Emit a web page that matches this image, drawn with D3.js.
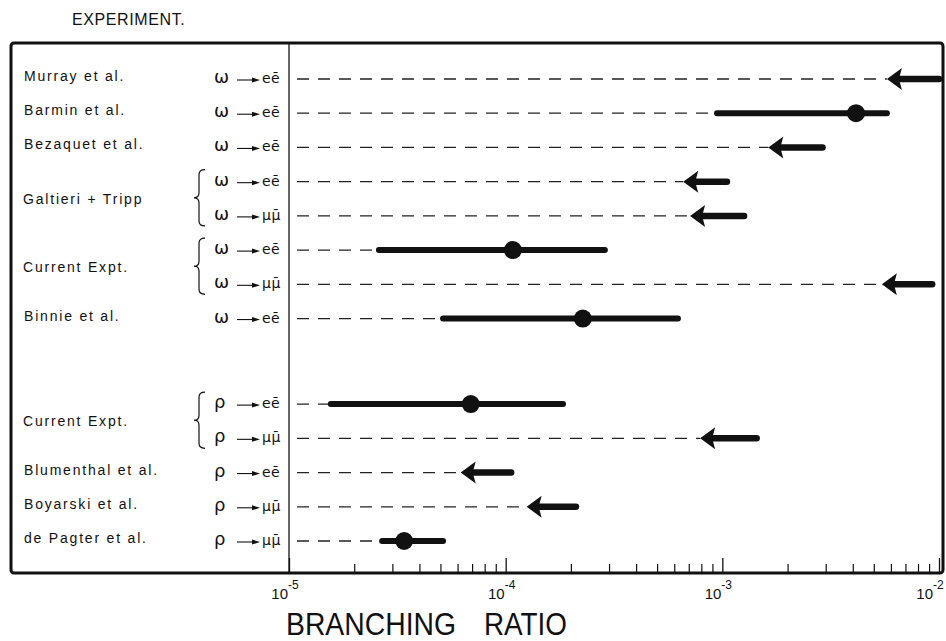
<!DOCTYPE html>
<html>
<head>
<meta charset="utf-8">
<script src="https://cdn.jsdelivr.net/npm/d3@7"></script>
<style>
  body { margin: 0; background: #fff; }
  text { fill: #111; }
</style>
</head>
<body>
<div id="chart"></div>
<script>
/* branching ratios of omega / rho -> lepton pairs, log axis */

// rows, top to bottom
const experiment = ["Murray et al.", "Barmin et al.", "Bezaquet et al.", "Galtieri + Tripp", "Galtieri + Tripp",
  "Current Expt.", "Current Expt.", "Binnie et al.", "Current Expt.", "Current Expt.",
  "Blumenthal et al.", "Boyarski et al.", "de Pagter et al."];
const meson = ["ω", "ω", "ω", "ω", "ω", "ω", "ω", "ω", "ρ", "ρ", "ρ", "ρ", "ρ"];
const product = ["eē", "eē", "eē", "eē", "μμ̄", "eē", "μμ̄", "eē", "eē", "μμ̄", "eē", "μμ̄", "μμ̄"];
const kind = ["limit", "measure", "limit", "limit", "limit", "measure", "limit", "measure",
  "measure", "limit", "limit", "limit", "measure"];
// measured value (null for upper limits)
const central = [null, 4.14e-3, null, null, null, 1.08e-4, null, 2.27e-4, 6.9e-5, null, null, null, 3.4e-5];
// lower end of bar, or the limit itself (arrow tip)
const low = [5.75e-3, 9.45e-4, 1.63e-3, 6.6e-4, 7.1e-4, 2.6e-5, 5.45e-3, 5.14e-5, 1.56e-5, 7.9e-4, 6.2e-5, 1.25e-4, 2.69e-5];
// upper end of bar / arrow tail
const high = [1e-2, 5.75e-3, 2.9e-3, 1.05e-3, 1.26e-3, 2.87e-4, 9.3e-3, 6.24e-4, 1.84e-4, 1.44e-3, 1.06e-4, 2.11e-4, 5.14e-5];

const majorTicks = [1e-5, 1e-4, 1e-3, 1e-2];
const tickExp = ["-5", "-4", "-3", "-2"];

const W = 946, H = 641;
const frame = { left: 11, top: 43, right: 943, bottom: 573 };

const xScale = d3.scaleLog().domain([1e-5, 1e-2]).range([289, 939]);
const yScale = d3.scaleLinear().domain([0, 13.5]).range([79, 541]);
// leave a gap of 1.5 rows before the rho block
const rowY = i => yScale(i + (meson[i] === "ρ" ? 1.5 : 0));

const svg = d3.select("#chart").append("svg")
  .attr("width", W)
  .attr("height", H);

svg.append("rect").attr("width", W).attr("height", H).attr("fill", "#fff");

// title above the frame
svg.append("text")
  .attr("x", 72).attr("y", 25)
  .style("font-family", "Liberation Sans")
  .style("font-size", "16px")
  .style("letter-spacing", "0.6px")
  .text("EXPERIMENT.");

// clip for marks that run into the right border
svg.append("clipPath").attr("id", "plotclip")
  .append("rect")
  .attr("x", 289).attr("y", frame.top)
  .attr("width", frame.right - 289).attr("height", frame.bottom - frame.top);

const rows = d3.range(experiment.length);

// dashed guide lines
const plot = svg.append("g").attr("clip-path", "url(#plotclip)");

plot.selectAll(".guide")
  .data(rows)
  .join("line")
  .attr("class", "guide")
  .attr("x1", 297)
  .attr("x2", i => xScale(low[i]))
  .attr("y1", rowY).attr("y2", rowY)
  .attr("stroke", "#222")
  .attr("stroke-width", 1.3)
  .attr("stroke-dasharray", "12,9");

// error bars
const meas = rows.filter(i => kind[i] === "measure");
plot.selectAll(".bar")
  .data(meas)
  .join("line")
  .attr("class", "bar")
  .attr("x1", i => xScale(low[i]))
  .attr("x2", i => xScale(high[i]))
  .attr("y1", rowY).attr("y2", rowY)
  .attr("stroke", "#111")
  .attr("stroke-width", 6)
  .attr("stroke-linecap", "round");

plot.selectAll(".pt")
  .data(meas)
  .join("circle")
  .attr("class", "pt")
  .attr("cx", i => xScale(central[i]))
  .attr("cy", rowY)
  .attr("r", 9)
  .attr("fill", "#111");

// upper limits: arrow pointing left
const lims = rows.filter(i => kind[i] === "limit");
plot.selectAll(".shaft")
  .data(lims)
  .join("line")
  .attr("class", "shaft")
  .attr("x1", i => xScale(low[i]) + 10)
  .attr("x2", i => xScale(high[i]))
  .attr("y1", rowY).attr("y2", rowY)
  .attr("stroke", "#111")
  .attr("stroke-width", 6.5)
  .attr("stroke-linecap", "round");

plot.selectAll(".head")
  .data(lims)
  .join("path")
  .attr("class", "head")
  .attr("d", i => {
    const x = xScale(low[i]), y = rowY(i);
    return `M${x},${y} L${x + 15},${y - 11} L${x + 12},${y} L${x + 15},${y + 11} Z`;
  })
  .attr("fill", "#111");

// frame + divider
svg.append("rect")
  .attr("x", frame.left).attr("y", frame.top)
  .attr("width", frame.right - frame.left)
  .attr("height", frame.bottom - frame.top)
  .attr("rx", 3)
  .attr("fill", "none")
  .attr("stroke", "#111")
  .attr("stroke-width", 3);

svg.append("line")
  .attr("x1", 289).attr("x2", 289)
  .attr("y1", frame.top).attr("y2", frame.bottom)
  .attr("stroke", "#111")
  .attr("stroke-width", 1.3);

// ticks point up from the bottom border
const minorTicks = xScale.ticks().filter(v => !majorTicks.some(m => Math.abs(m - v) / m < 1e-6));

svg.append("g")
  .attr("transform", `translate(0,${frame.bottom})`)
  .call(d3.axisTop(xScale).tickValues(majorTicks).tickSize(15).tickFormat(""))
  .call(g => g.select(".domain").remove())
  .call(g => g.selectAll("line").attr("stroke", "#111").attr("stroke-width", 1.3));

svg.append("g")
  .attr("transform", `translate(0,${frame.bottom})`)
  .call(d3.axisTop(xScale).tickValues(minorTicks).tickSize(9).tickFormat(""))
  .call(g => g.select(".domain").remove())
  .call(g => g.selectAll("line").attr("stroke", "#111").attr("stroke-width", 1.2));

// tick labels 10^n
const tl = svg.append("g").style("font-family", "Liberation Sans");
tl.selectAll(".ten")
  .data(majorTicks)
  .join("text")
  .attr("class", "ten")
  .attr("x", d => Math.min(xScale(d) - 1, W - 13))
  .attr("y", 599)
  .attr("text-anchor", "end")
  .style("font-size", "15px")
  .text("10");
tl.selectAll(".exp")
  .data(majorTicks)
  .join("text")
  .attr("class", "exp")
  .attr("x", d => Math.min(xScale(d) - 1, W - 13))
  .attr("y", 589)
  .style("font-size", "12px")
  .text((d, i) => tickExp[i]);

// axis title
svg.append("text")
  .attr("x", 286).attr("y", 635)
  .attr("textLength", 170)
  .attr("lengthAdjust", "spacingAndGlyphs")
  .style("font-family", "Liberation Sans")
  .style("font-size", "32px")
  .text("BRANCHING");
svg.append("text")
  .attr("x", 484).attr("y", 635)
  .attr("textLength", 83)
  .attr("lengthAdjust", "spacingAndGlyphs")
  .style("font-family", "Liberation Sans")
  .style("font-size", "32px")
  .text("RATIO");

// decay labels
const lab = svg.append("g");
lab.selectAll(".mes")
  .data(rows)
  .join("text")
  .attr("class", "mes")
  .attr("x", 214)
  .attr("y", i => rowY(i) + 4)
  .style("font-family", "DejaVu Sans")
  .style("font-size", "18px")
  .text(i => meson[i]);

lab.selectAll(".arr")
  .data(rows)
  .join("line")
  .attr("class", "arr")
  .attr("x1", 237).attr("x2", 256)
  .attr("y1", i => rowY(i) + 1).attr("y2", i => rowY(i) + 1)
  .attr("stroke", "#111")
  .attr("stroke-width", 1.1);
lab.selectAll(".arrh")
  .data(rows)
  .join("path")
  .attr("class", "arrh")
  .attr("d", i => {
    const y = rowY(i) + 1;
    return `M260,${y} L252,${y - 2.5} L252,${y + 2.5} Z`;
  })
  .attr("fill", "#111");

lab.selectAll(".prod")
  .data(rows)
  .join("text")
  .attr("class", "prod")
  .attr("x", 262)
  .attr("y", i => rowY(i) + 4)
  .style("font-family", "DejaVu Sans")
  .style("font-size", "14px")
  .style("letter-spacing", "0.5px")
  .text(i => product[i]);

// experiment names: consecutive rows with same name share a brace
const groups = [];
rows.forEach(i => {
  const last = groups[groups.length - 1];
  if (last && experiment[last[0]] === experiment[i] && last[last.length - 1] === i - 1) last.push(i);
  else groups.push([i]);
});

lab.selectAll(".name")
  .data(groups)
  .join("text")
  .attr("class", "name")
  .attr("x", g => g.length > 1 ? 23 : 24)
  .attr("y", g => d3.mean(g, rowY) + (g.length > 1 ? 5 : 2))
  .style("font-family", "Liberation Sans")
  .style("font-size", "14px")
  .style("letter-spacing", "1.8px")
  .text(g => experiment[g[0]]);

lab.selectAll(".brace")
  .data(groups.filter(g => g.length > 1))
  .join("path")
  .attr("class", "brace")
  .attr("d", g => {
    const t = rowY(g[0]) - 12, b = rowY(g[g.length - 1]) + 10, m = (t + b) / 2;
    const xl = 194, xm = 199, xr = 205, r = 5;
    return `M${xr},${t} Q${xm},${t} ${xm},${t + r} L${xm},${m - r} Q${xm},${m} ${xl},${m}` +
      ` Q${xm},${m} ${xm},${m + r} L${xm},${b - r} Q${xm},${b} ${xr},${b}`;
  })
  .attr("fill", "none")
  .attr("stroke", "#111")
  .attr("stroke-width", 1.2);
</script>
</body>
</html>
